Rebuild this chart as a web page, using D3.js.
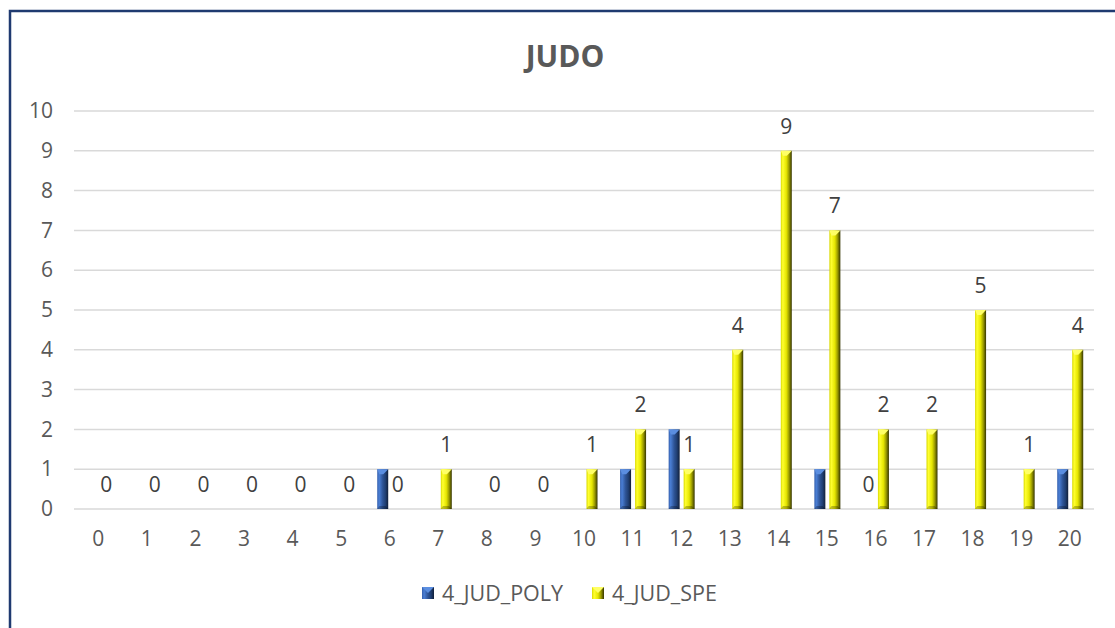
<!DOCTYPE html>
<html>
<head>
<meta charset="utf-8">
<script src="https://cdn.jsdelivr.net/npm/d3@7"></script>
<style>
    body { margin: 0; background: #fff; }
    svg { display: block; font-family: "Open Sans", sans-serif; }
</style>
</head>
<body>
<svg width="1115" height="628"></svg>
<script>
const categories = d3.range(0, 21).map(String);
const seriesNames = ["4_JUD_POLY", "4_JUD_SPE"];
const poly = [0, 0, 0, 0, 0, 0, 1, 0, 0, 0, 0, 1, 2, 0, 0, 1, 0, 0, 0, 0, 1];
const spe = [0, 0, 0, 0, 0, 0, 0, 1, 0, 0, 1, 2, 1, 4, 9, 7, 2, 2, 5, 1, 4];
// which bars carry a data label
const polyLabelAt = ["16"];
const speLabelAt = categories;
const yTicks = d3.range(0, 11);

const svg = d3.select("svg");
const textColor = "#595959";
const fontSize = 21;

// frame
svg.append("rect")
    .attr("x", 10).attr("y", 11)
    .attr("width", 1300).attr("height", 800)
    .attr("fill", "none")
    .attr("stroke", "#1f3a70")
    .attr("stroke-width", 2.5);

const plotLeft = 74, plotRight = 1094, plotTop = 111, plotBottom = 509;

const x = d3.scaleBand().domain(categories).range([plotLeft, plotRight]).padding(0);
const y = d3.scaleLinear().domain([0, 10]).range([plotBottom, plotTop]);
const xSub = d3.scaleBand().domain(seriesNames)
    .range([0, 26]).paddingInner(4 / 15).paddingOuter(0);
const subOffset = (x.bandwidth() - 26) / 2 + 0.5;

// gradients
const defs = svg.append("defs");
function gradient(id, stops) {
    const g = defs.append("linearGradient").attr("id", id)
        .attr("x1", "0").attr("x2", "1").attr("y1", "0").attr("y2", "0");
    stops.forEach(([o, c]) => g.append("stop").attr("offset", o).attr("stop-color", c));
}
gradient("gPoly", [[0, "#3560ad"], [0.18, "#4a7ed4"], [0.5, "#2e5496"], [0.75, "#203f73"], [1, "#121f38"]]);
gradient("gSpe", [[0, "#d9d900"], [0.18, "#ffff30"], [0.5, "#e6e600"], [0.75, "#9a9a00"], [1, "#353500"]]);
const colors = {
    "4_JUD_POLY": {fill: "url(#gPoly)", cap: "#5b8ee0"},
    "4_JUD_SPE": {fill: "url(#gSpe)", cap: "#ffff66"}
};

// title
svg.append("text")
    .attr("x", 565).attr("y", 67)
    .attr("text-anchor", "middle")
    .attr("font-size", 30).attr("font-weight", "bold")
    .attr("fill", textColor)
    .text("JUDO");

// gridlines
svg.append("g")
    .selectAll("line")
    .data(yTicks)
    .enter().append("line")
    .attr("x1", plotLeft).attr("x2", plotRight)
    .attr("y1", d => y(d)).attr("y2", d => y(d))
    .attr("stroke", "#d9d9d9")
    .attr("stroke-width", 1.5);

// y axis labels
const yAxis = svg.append("g")
    .attr("transform", `translate(${plotLeft - 8},0)`)
    .call(d3.axisLeft(y).tickValues(yTicks).tickSize(0).tickPadding(13));
yAxis.select(".domain").remove();
yAxis.selectAll("text")
    .attr("font-size", fontSize).attr("fill", textColor)
    .attr("font-family", "Open Sans, sans-serif");

// x axis labels
const xAxis = svg.append("g")
    .attr("transform", `translate(0,${plotBottom})`)
    .call(d3.axisBottom(x).tickSize(0).tickPadding(22));
xAxis.select(".domain").remove();
xAxis.selectAll("text")
    .attr("font-size", fontSize).attr("fill", textColor)
    .attr("font-family", "Open Sans, sans-serif");

// bars
const rows = [];
categories.forEach((c, i) => {
    rows.push({cat: c, series: "4_JUD_POLY", value: poly[i], label: polyLabelAt.includes(c)});
    rows.push({cat: c, series: "4_JUD_SPE", value: spe[i], label: speLabelAt.includes(c)});
});

const bx = d => x(d.cat) + subOffset + xSub(d.series);
const bw = xSub.bandwidth();

const bars = svg.append("g").selectAll("g")
    .data(rows.filter(d => d.value > 0))
    .enter().append("g");

bars.append("rect")
    .attr("x", bx)
    .attr("y", d => y(d.value))
    .attr("width", bw)
    .attr("height", d => y(0) - y(d.value))
    .attr("fill", d => colors[d.series].fill);

// bevel facets: top cap and bottom shade
bars.append("path")
    .attr("d", d => {
        const x0 = bx(d), y0 = y(d.value);
        return `M${x0},${y0}L${x0 + bw},${y0}L${x0 + bw * 0.55},${y0 + 5}L${x0 + bw * 0.2},${y0 + 5}Z`;
    })
    .attr("fill", d => colors[d.series].cap);

bars.append("path")
    .attr("d", d => {
        const x0 = bx(d), y0 = y(0);
        return `M${x0},${y0}L${x0 + bw},${y0}L${x0 + bw * 0.75},${y0 - 3}L${x0 + bw * 0.2},${y0 - 3}Z`;
    })
    .attr("fill", "#000").attr("opacity", 0.25);

// data labels
svg.append("g").selectAll("text")
    .data(rows.filter(d => d.label))
    .enter().append("text")
    .attr("x", d => bx(d) + bw / 2)
    .attr("y", d => y(d.value) - 17)
    .attr("text-anchor", "middle")
    .attr("font-size", fontSize)
    .attr("fill", "#404040")
    .text(d => d.value);

// legend
const legend = svg.append("g").attr("transform", "translate(422,587)");
const legendX = {"4_JUD_POLY": 0, "4_JUD_SPE": 170};
const li = legend.selectAll("g")
    .data(seriesNames)
    .enter().append("g")
    .attr("transform", d => `translate(${legendX[d]},0)`);
li.append("rect")
    .attr("width", 12).attr("height", 12)
    .attr("fill", d => colors[d].fill);
li.append("path")
    .attr("d", "M0,0L12,0L6,6Z")
    .attr("fill", d => colors[d].cap);
li.append("text")
    .attr("x", 20).attr("y", 14)
    .attr("font-size", fontSize + 0.5)
    .attr("fill", textColor)
    .text(d => d);
</script>
</body>
</html>
